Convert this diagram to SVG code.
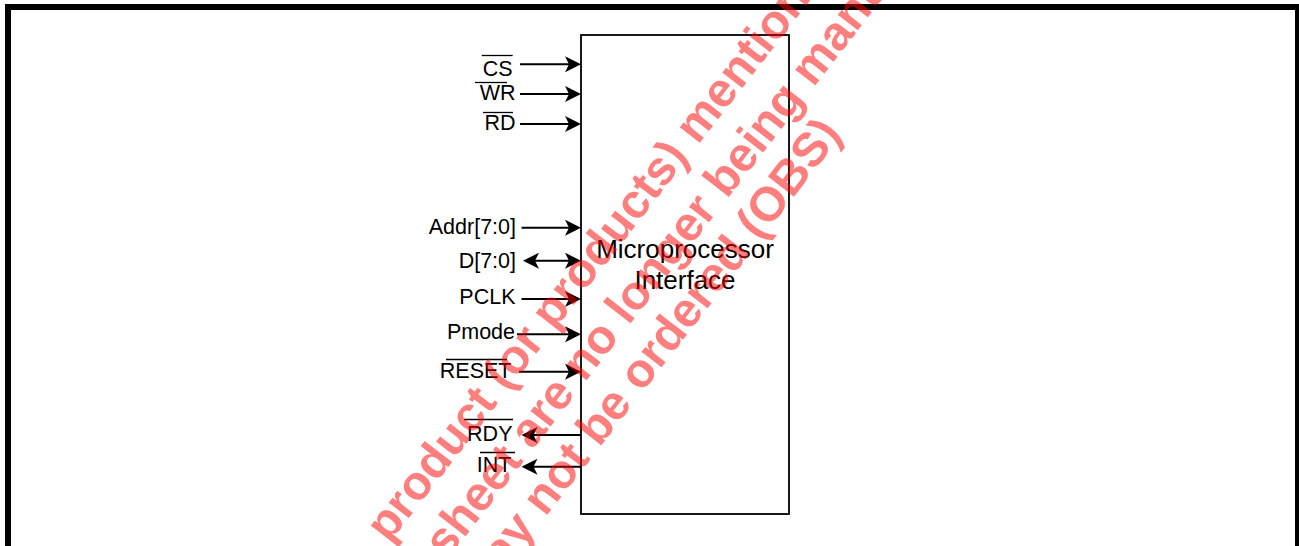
<svg xmlns="http://www.w3.org/2000/svg" width="1299" height="546" viewBox="0 0 1299 546">
  <defs>
    <marker id="ah" viewBox="0 0 16 16" refX="12" refY="8" markerWidth="16" markerHeight="16" markerUnits="userSpaceOnUse" orient="auto-start-reverse">
      <path d="M0,0 L16,8 L0,16 L4,8 Z" fill="#000"/>
    </marker>
  </defs>
  <style>
    .lbl { font-family: "Liberation Sans", Arial, sans-serif; font-size: 21.5px; fill: #000; text-anchor: end; }
    .box { font-family: "Liberation Sans", Arial, sans-serif; font-size: 26px; fill: #000; text-anchor: middle; }
    .ov { stroke: #000; stroke-width: 1.3; fill: none; }
    .wire { stroke: #000; stroke-width: 2; fill: none; }
    .arr { marker-end: url(#ah); }
    .dbl { marker-start: url(#ah); marker-end: url(#ah); }
    .wm { font-family: "Liberation Sans", Arial, sans-serif; font-weight: bold; font-size: 48px; fill: #ff0000; fill-opacity: 0.5; }
  </style>
  <rect width="1299" height="546" fill="#fff"/>
  <rect id="frame" x="8" y="7" width="1290" height="600" fill="none" stroke="#000" stroke-width="6"/>

  <g id="mpi">
    <rect x="581" y="35" width="208" height="479" fill="#fff" stroke="#000" stroke-width="1.8"/>
    <text class="box" x="685" y="258">Microprocessor</text>
    <text class="box" x="685" y="288.5">Interface</text>
  </g>

  <g id="connectors">
    <line class="wire arr" x1="520" y1="64.3" x2="577" y2="64.3"/>
    <line class="wire arr" x1="520" y1="94" x2="577" y2="94"/>
    <line class="wire arr" x1="520" y1="124" x2="577" y2="124"/>
    <line class="wire arr" x1="521.5" y1="227.7" x2="577" y2="227.7"/>
    <line class="wire dbl" x1="527" y1="260.7" x2="577" y2="260.7"/>
    <line class="wire arr" x1="521.5" y1="299" x2="577" y2="299"/>
    <line class="wire arr" x1="517" y1="334.3" x2="577" y2="334.3"/>
    <line class="wire arr" x1="519" y1="371.7" x2="577" y2="371.7"/>
    <line class="wire arr" x1="581" y1="435" x2="525.5" y2="435"/>
    <line class="wire arr" x1="581" y1="466.7" x2="525.5" y2="466.7"/>
  </g>

  <g id="sig-cs">
    <text class="lbl" x="512.5" y="75.7">CS</text>
    <line class="ov" x1="481.7" y1="55.5" x2="512.7" y2="55.5"/>
  </g>
  <g id="sig-wr">
    <text class="lbl" x="515.5" y="100">WR</text>
    <line class="ov" x1="475" y1="82.5" x2="507" y2="82.5"/>
  </g>
  <g id="sig-rd">
    <text class="lbl" x="515.5" y="130">RD</text>
    <line class="ov" x1="483" y1="112.5" x2="513" y2="112.5"/>
  </g>
  <g id="sig-addr">
    <text class="lbl" x="516" y="234.3">Addr[7:0]</text>
  </g>
  <g id="sig-d">
    <text class="lbl" x="516" y="267.7">D[7:0]</text>
  </g>
  <g id="sig-pclk">
    <text class="lbl" x="515.5" y="304.3">PCLK</text>
  </g>
  <g id="sig-pmode">
    <text class="lbl" x="515" y="339.3">Pmode</text>
  </g>
  <g id="sig-reset">
    <text class="lbl" x="511.5" y="378.3">RESET</text>
    <line class="ov" x1="446" y1="359.5" x2="507" y2="359.5"/>
  </g>
  <g id="sig-rdy">
    <text class="lbl" x="512.5" y="441">RDY</text>
    <line class="ov" x1="464" y1="419.5" x2="513" y2="419.5"/>
  </g>
  <g id="sig-int">
    <text class="lbl" x="511.5" y="471.7">INT</text>
    <line class="ov" x1="480" y1="452.5" x2="515" y2="452.5"/>
  </g>

  <g id="watermark">
    <text class="wm" transform="translate(388.8,543.8) rotate(-52.2)">product (or products) mentioned</text>
    <text class="wm" transform="translate(447.1,560) rotate(-52.2)">sheet are no longer being manufactured</text>
    <text class="wm" text-anchor="end" transform="translate(842.7,134) rotate(-52.2)">may not be ordered (OBS)</text>
  </g>
</svg>
